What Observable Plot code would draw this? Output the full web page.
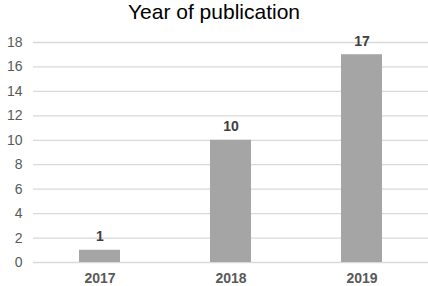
<!DOCTYPE html>
<html>
<head>
<meta charset="utf-8">
<script src="https://cdn.jsdelivr.net/npm/d3@7"></script>
<script src="https://cdn.jsdelivr.net/npm/@observablehq/plot@0.6"></script>
<style>
  html, body { margin: 0; padding: 0; background: #fff; }
  #title { width: 428px; height: 28px; text-align: center; font-family: "Liberation Sans", Arial, sans-serif; font-size: 21px; line-height: 24px; color: #000; }
  svg { display: block; }
</style>
</head>
<body>
<div id="title">Year of publication</div>
<div id="chart"></div>
<script>
const years = ["2017", "2018", "2019"];
const counts = [1, 10, 17];
const yTicks = [0, 2, 4, 6, 8, 10, 12, 14, 16, 18];

const data = years.map((y, i) => ({year: y, count: counts[i]}));

const chart = Plot.plot({
  width: 428,
  height: 258,
  marginTop: 14,
  marginBottom: 24,
  marginLeft: 33,
  marginRight: 0,
  style: {fontFamily: "'Liberation Sans', Arial, sans-serif", background: "#fff"},
  x: {domain: years, paddingInner: 0.69, paddingOuter: 0.345, label: null},
  y: {domain: [0, 18], label: null},
  marks: [
    Plot.gridY(yTicks, {stroke: "#d9d9d9", strokeOpacity: 1, strokeWidth: 1.3}),
    Plot.axisY(yTicks, {tickSize: 0, tickPadding: 11, fontSize: 14, fill: "#595959", label: null}),
    Plot.axisX({tickSize: 0, tickPadding: 11, fontSize: 14, fontWeight: "bold", fill: "#595959", label: null}),
    Plot.barY(data, {x: "year", y: "count", fill: "#a5a5a5"}),
    Plot.text(data, {x: "year", y: "count", text: d => String(d.count), lineAnchor: "bottom", dy: -9, fontSize: 14, fontWeight: "bold", fill: "#404040"})
  ]
});
document.getElementById("chart").appendChild(chart);
</script>
</body>
</html>
